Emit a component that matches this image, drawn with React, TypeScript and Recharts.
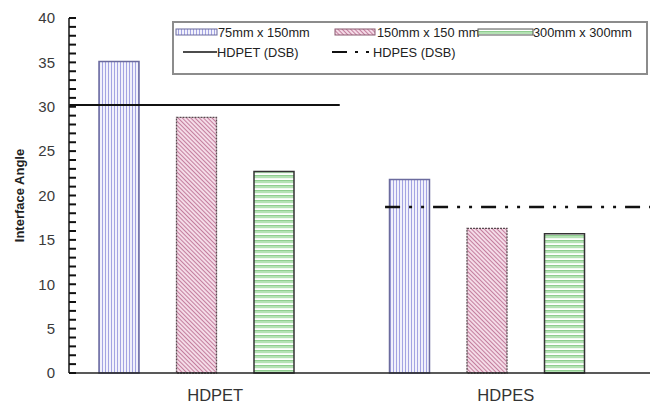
import React from "react";
import {
  ComposedChart,
  Bar,
  Line,
  Scatter,
  XAxis,
  YAxis,
  Legend,
} from "recharts";

// values
const categories = ["HDPET", "HDPES"];
const size75x150 = [35.1, 21.8];
const size150x150 = [28.8, 16.3];
const size300x300 = [22.7, 15.7];
const dsbHdpet = 30.2;
const dsbHdpes = 18.7;
// horizontal extent of the DSB lines, in % of plot width (helper axis)
const hdpetSpan = [0, 46.6];
const hdpesSpan = [54.4, 100];
const majorTicks = [0, 5, 10, 15, 20, 25, 30, 35, 40];
const minorTicks = Array.from({ length: 41 }, (_, i) => i);

const data = categories.map((name, i) => ({
  name,
  s75: size75x150[i],
  s150: size150x150[i],
  s300: size300x300[i],
}));
const hdpetLine = hdpetSpan.map((x) => ({ x, y: dsbHdpet }));
const hdpesLine = hdpesSpan.map((x) => ({ x, y: dsbHdpes }));
const minorTickData = minorTicks.map((y) => ({ x: 0, y }));

const FONT = "'Liberation Sans', Arial, sans-serif";

const Patterns = () => (
  <svg width={0} height={0} style={{ position: "absolute" }}>
    <defs>
      <pattern id="pVert" width={3} height={10} patternUnits="userSpaceOnUse">
        <rect width={3} height={10} fill="#f1f1fb" />
        <rect x={0} width={1} height={10} fill="#a3a3e2" />
      </pattern>
      <pattern
        id="pDiag"
        width={3}
        height={10}
        patternUnits="userSpaceOnUse"
        patternTransform="rotate(-45)"
      >
        <rect width={3} height={10} fill="#f4dbe7" />
        <rect x={0} width={1} height={10} fill="#c47e9e" />
      </pattern>
      <pattern id="pHoriz" width={10} height={5} patternUnits="userSpaceOnUse">
        <rect width={10} height={5} fill="#ffffff" />
        <rect y={0} width={10} height={3.2} fill="#b4e2b4" />
        <rect y={0} width={10} height={0.8} fill="#86c886" />
      </pattern>
    </defs>
  </svg>
);

// inward-pointing tick mark, drawn at each minor tick value
const renderTickMark = (props: any) => {
  const cx = Number(props.cx);
  const cy = Number(props.cy);
  return (
    <path
      d={`M${cx},${cy}L${cx + 7},${cy}`}
      stroke="#111"
      strokeWidth={2}
      fill="none"
    />
  );
};

const XTick = (props: any) => {
  const x = Number(props.x);
  const y = Number(props.y);
  return (
    <text
      x={x + 19}
      y={y + 20}
      textAnchor="middle"
      fill="#333"
      fontSize={16.5}
      fontFamily={FONT}
    >
      {props.payload.value}
    </text>
  );
};

const LegendBox = () => (
  <svg width={476} height={54} style={{ display: "block" }}>
    <rect x={1} y={1} width={474} height={52} fill="#fff" stroke="#8c8c8c" strokeWidth={2} />
    <g fontFamily={FONT} fontSize={12.8} fill="#222">
      <rect x={4} y={8} width={41} height={6} fill="url(#pVert)" stroke="#6b6b9e" />
      <text x={46} y={16}>75mm x 150mm</text>
      <rect x={163} y={8} width={40} height={6} fill="url(#pDiag)" stroke="#8a5a70" />
      <text x={205} y={16}>150mm x 150 mm</text>
      <rect x={306} y={8} width={55} height={6} fill="url(#pHoriz)" stroke="#555" />
      <text x={361} y={16}>300mm x 300mm</text>
      <line x1={11} x2={45} y1={31} y2={31} stroke="#111" strokeWidth={1.5} />
      <text x={45} y={36}>HDPET (DSB)</text>
      <line
        x1={160}
        x2={201}
        y1={31}
        y2={31}
        stroke="#111"
        strokeWidth={2.2}
        strokeDasharray="15 8 3 8 3 8"
      />
      <text x={201} y={36}>HDPES (DSB)</text>
    </g>
  </svg>
);

export default function App() {
  return (
    <div style={{ position: "absolute", left: 0, top: 0, background: "#fff" }}>
      <Patterns />
      <ComposedChart
        width={658}
        height={404}
        data={data}
        margin={{ top: 18, right: 8, bottom: 0, left: 9 }}
        barSize={40}
        barGap={37.5}
      >
        <XAxis
          dataKey="name"
          xAxisId="cat"
          padding={{ left: -18, right: 18 }}
          tick={<XTick />}
          tickLine={false}
          axisLine={{ stroke: "#222", strokeWidth: 1.6 }}
          height={31}
        />
        <XAxis
          xAxisId="top"
          dataKey="x"
          orientation="top"
          type="number"
          domain={[0, 100]}
          allowDataOverflow
          tick={false}
          tickLine={false}
          axisLine={{ stroke: "#222", strokeWidth: 1.6 }}
          height={0}
        />
        <YAxis
          yAxisId="left"
          domain={[0, 40]}
          ticks={majorTicks}
          interval={0}
          tick={{ fill: "#3a3a3a", fontSize: 15, fontFamily: FONT }}
          tickLine={false}
          tickSize={0}
          tickMargin={14}
          axisLine={{ stroke: "#222", strokeWidth: 1.6 }}
          width={60}
          label={{
            value: "Interface Angle",
            angle: -90,
            position: "insideLeft",
            offset: 10,
            style: {
              fontFamily: FONT,
              fontSize: 13,
              fontWeight: "bold",
              fill: "#222",
              textAnchor: "middle",
            },
          }}
        />
        <YAxis
          yAxisId="right"
          orientation="right"
          domain={[0, 40]}
          tick={false}
          tickLine={false}
          axisLine={{ stroke: "#222", strokeWidth: 1.6 }}
          width={0}
        />
        <Bar
          dataKey="s75"
          name="75mm x 150mm"
          xAxisId="cat"
          yAxisId="left"
          fill="url(#pVert)"
          stroke="#6b6b9e"
          strokeWidth={1.5}
          isAnimationActive={false}
        />
        <Bar
          dataKey="s150"
          name="150mm x 150 mm"
          xAxisId="cat"
          yAxisId="left"
          fill="url(#pDiag)"
          stroke="#5a4a50"
          strokeWidth={1.3}
          strokeDasharray="2 1"
          isAnimationActive={false}
        />
        <Bar
          dataKey="s300"
          name="300mm x 300mm"
          xAxisId="cat"
          yAxisId="left"
          fill="url(#pHoriz)"
          stroke="#333"
          strokeWidth={1.5}
          isAnimationActive={false}
        />
        <Line
          data={hdpetLine}
          dataKey="y"
          name="HDPET (DSB)"
          xAxisId="top"
          yAxisId="left"
          type="linear"
          stroke="#111"
          strokeWidth={1.8}
          dot={false}
          activeDot={false}
          isAnimationActive={false}
        />
        <Line
          data={hdpesLine}
          dataKey="y"
          name="HDPES (DSB)"
          xAxisId="top"
          yAxisId="left"
          type="linear"
          stroke="#111"
          strokeWidth={2.4}
          strokeDasharray="15 9 3 9 3 9"
          dot={false}
          activeDot={false}
          isAnimationActive={false}
        />
        <Scatter
          data={minorTickData}
          dataKey="y"
          xAxisId="top"
          yAxisId="left"
          shape={renderTickMark}
          legendType="none"
          isAnimationActive={false}
        />
        <Legend
          layout="horizontal"
          verticalAlign="middle"
          content={<LegendBox />}
          wrapperStyle={{ position: "absolute", left: 172, top: 21, width: 476, height: 54 }}
        />
      </ComposedChart>
    </div>
  );
}
